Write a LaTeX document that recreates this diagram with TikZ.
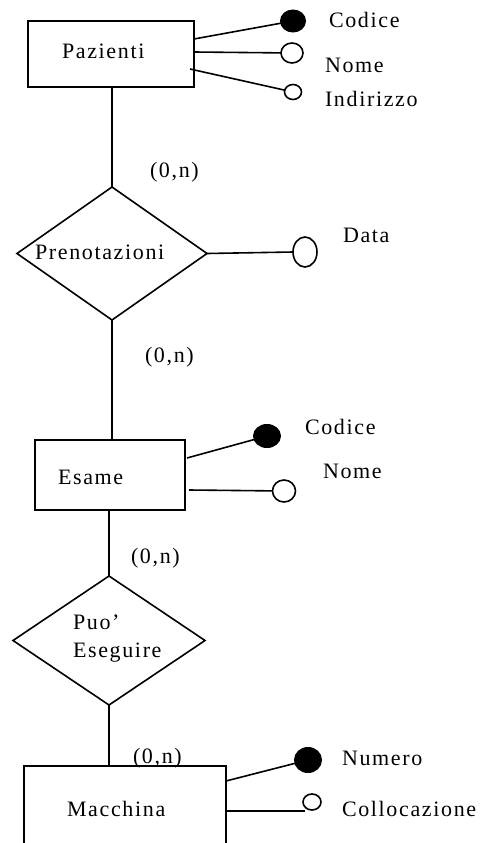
\documentclass[tikz,border=0pt]{standalone}
\usepackage{fontspec}
\setmainfont{Liberation Serif}[LetterSpace=7.5]
\usetikzlibrary{shapes.geometric}

\begin{document}
\begin{tikzpicture}[x=1pt,y=-1pt,
  every node/.style={inner sep=0pt, outer sep=0pt},
  txt/.style={anchor=base west, font=\fontsize{22}{26}\selectfont},
  entity/.style={draw, line width=1.6pt, rectangle},
  rel/.style={draw, line width=1.6pt, diamond},
  link/.style={line width=1.6pt},
  keyattr/.style={draw, fill=black, line width=1pt, ellipse},
  attr/.style={draw, fill=white, line width=1.6pt, ellipse}]

\useasboundingbox (0,0) rectangle (481,843);
\clip (0,0) rectangle (481,843);

% ---- entity Pazienti
\node[entity, minimum width=166pt, minimum height=66pt] (paz) at (111,54) {};
\node[txt] (pazT) at (62,59) {Pazienti};
\node[keyattr, minimum width=25pt, minimum height=22pt] (pazK) at (293,21) {};
\node[attr, minimum width=22pt, minimum height=20pt] (pazN) at (292,53) {};
\node[attr, minimum width=17pt, minimum height=15pt] (pazI) at (293,92) {};
\node[txt] (pazKT) at (329,28) {Codice};
\node[txt] (pazNT) at (325,73) {Nome};
\node[txt] (pazIT) at (325,106) {Indirizzo};
\coordinate (pazA) at (194,39);
\coordinate (pazB) at (194,52);
\coordinate (pazC) at (190,69);
\draw[link] (pazA) -- (pazK);
\draw[link] (pazB) -- (pazN);
\draw[link] (pazC) -- (pazI);

% ---- relationship Prenotazioni
\node[rel, minimum width=190pt, minimum height=133pt] (pre) at (112,253.5) {};
\node[txt] (preT) at (35,259) {Prenotazioni};
\node[attr, minimum width=24pt, minimum height=30pt] (preD) at (305,252) {};
\node[txt] (preDT) at (343,242) {Data};
\draw[link] (pre.east) -- (preD.west);

% ---- entity Esame
\node[entity, minimum width=150pt, minimum height=70pt] (esa) at (110,475) {};
\node[txt] (esaT) at (58,484) {Esame};
\node[keyattr, minimum width=27pt, minimum height=23pt] (esaK) at (267,436) {};
\node[attr, minimum width=23pt, minimum height=22pt] (esaN) at (284,491) {};
\node[txt] (esaKT) at (305,434) {Codice};
\node[txt] (esaNT) at (323,478) {Nome};
\coordinate (esaA) at (187,458);
\coordinate (esaB) at (189,490);
\draw[link] (esaA) -- (esaK);
\draw[link] (esaB) -- (esaN);

% ---- relationship Puo' Eseguire
\node[rel, minimum width=192pt, minimum height=129pt] (pue) at (109,640.5) {};
\node[txt] (pueT1) at (73,629) {Puo’};
\node[txt] (pueT2) at (73,657) {Eseguire};

% ---- entity Macchina (runs past the lower edge)
\node[entity, minimum width=202pt, minimum height=150pt] (mac) at (125,841) {};
\node[txt] (macT) at (67,816) {Macchina};
\node[keyattr, minimum width=27pt, minimum height=25pt] (macK) at (308,760) {};
\node[attr, minimum width=18pt, minimum height=16pt] (macC) at (312,802) {};
\node[txt] (macKT) at (342,765) {Numero};
\node[txt] (macCT) at (342,816) {Collocazione};
\coordinate (macA) at (226,781);
\coordinate (macB) at (226,811);
\coordinate (macCE) at (305,811);
\draw[link] (macA) -- (macK);
\draw[link] (macB) -- (macCE);

% ---- links between entities and relationships, with cardinalities
\draw[link] (paz.south -| pre.north) -- (pre.north);
\draw[link] (pre.south) -- (esa.north -| pre.south);
\draw[link] (esa.south -| pue.north) -- (pue.north);
\draw[link] (pue.south) -- (mac.north -| pue.south);

\node[txt] (c1) at (150,177) {(0,n)};
\node[txt] (c2) at (145,362) {(0,n)};
\node[txt] (c3) at (131,563) {(0,n)};
\node[txt] (c4) at (133,763) {(0,n)};
\end{tikzpicture}
\end{document}
